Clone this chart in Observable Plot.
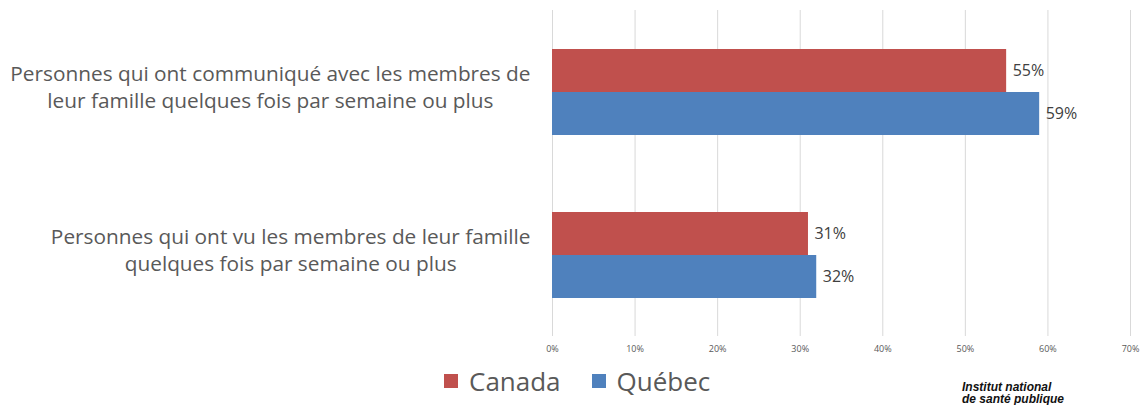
<!DOCTYPE html>
<html><head><meta charset="utf-8">
<script src="https://cdn.jsdelivr.net/npm/d3@7"></script>
<script src="https://cdn.jsdelivr.net/npm/@observablehq/plot@0.6"></script>
<style>
body{margin:0;background:#fff;font-family:"Open Sans",sans-serif;}
#wrap{position:relative;width:1145px;height:405px;overflow:hidden;background:#fff;}
#legend{position:absolute;left:444px;top:364px;display:flex;align-items:center;font-size:26px;color:#595959;line-height:34px;}
#legend .sw{width:14px;height:14px;display:inline-block;margin-right:11px;}
#legend .it{display:flex;align-items:center;margin-right:31px;}
#logo{position:absolute;left:962px;top:381px;font-family:"Liberation Sans",Arial,sans-serif;font-weight:bold;font-style:italic;font-size:12px;line-height:12px;color:#111;white-space:nowrap;}
</style></head><body><div id="wrap"></div>
<script>
const categories = [
  "Personnes qui ont communiqué avec les membres de\nleur famille quelques fois par semaine ou plus",
  "Personnes qui ont vu les membres de leur famille\nquelques fois par semaine ou plus"
];
const series = ["Canada", "Québec"];
const canadaValues = [0.55, 0.31];
const quebecValues = [0.59, 0.32];
const xTicks = [0, 0.1, 0.2, 0.3, 0.4, 0.5, 0.6, 0.7];
const seriesColors = ["#C0504D", "#4F81BD"];
const logoLines = ["Institut national", "de santé publique"];

const rows = [];
categories.forEach((c, i) => {
  rows.push({category: c, series: series[0], value: canadaValues[i]});
  rows.push({category: c, series: series[1], value: quebecValues[i]});
});

const pct = d3.format(".0%");
const labelFont = 20.8;
const ctx = document.createElement("canvas").getContext("2d");
ctx.font = `${labelFont}px "Open Sans"`;
const labelWidth = c => d3.max(c.split("\n"), l => ctx.measureText(l).width);

const labelMarks = categories.map(c => Plot.text([c], {
  fy: d => d, text: d => d, frameAnchor: "left", textAnchor: "middle",
  dx: -(22 + labelWidth(c) / 2), dy: -6, lineHeight: 1.3,
  fontSize: labelFont, fill: "#595959"
}));

const chart = Plot.plot({
  width: 1145, height: 358,
  marginLeft: 552, marginRight: 15, marginTop: 9, marginBottom: 22,
  style: {fontFamily: "'Open Sans', sans-serif", background: "transparent", color: "#595959"},
  x: {domain: [0, 0.7], label: null},
  fy: {domain: categories, padding: 0, axis: null, label: null},
  y: {domain: series, paddingInner: 0, paddingOuter: 0.895, axis: null, label: null},
  color: {domain: series, range: seriesColors},
  marks: [
    Plot.gridX(xTicks, {stroke: "#d9d9d9", strokeOpacity: 1, strokeWidth: 1}),
    Plot.axisX(xTicks, {tickSize: 0, tickPadding: 9, fontSize: 9, fill: "#595959", tickFormat: pct, label: null}),
    Plot.barX(rows, {x: "value", y: "series", fy: "category", fill: "series"}),
    Plot.text(rows, {x: "value", y: "series", fy: "category", text: d => pct(d.value),
      textAnchor: "start", dx: 6, fontSize: 16, fill: "#404040"}),
    ...labelMarks
  ]
});

const wrap = document.getElementById("wrap");
wrap.appendChild(chart);

const legend = document.createElement("div");
legend.id = "legend";
series.forEach((s, i) => {
  const it = document.createElement("span");
  it.className = "it";
  const sw = document.createElement("span");
  sw.className = "sw";
  sw.style.background = seriesColors[i];
  it.appendChild(sw);
  it.appendChild(document.createTextNode(s));
  legend.appendChild(it);
});
wrap.appendChild(legend);

const logo = document.createElement("div");
logo.id = "logo";
logo.innerHTML = logoLines.join("<br>");
wrap.appendChild(logo);
</script></body></html>
